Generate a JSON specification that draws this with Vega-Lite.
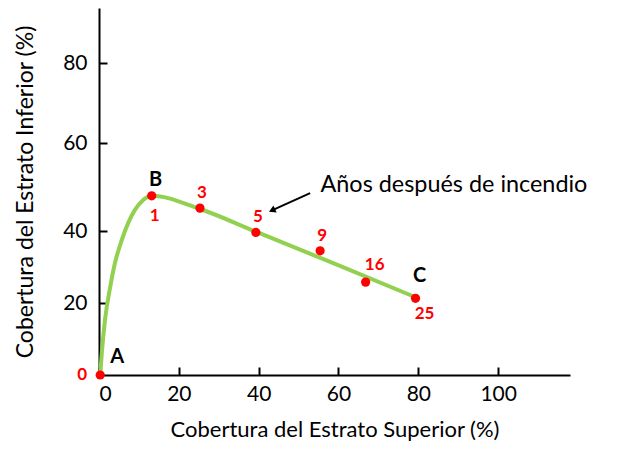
{
  "$schema": "https://vega.github.io/schema/vega-lite/v6.json",
  "width": 471,
  "height": 367,
  "autosize": {"type": "none"},
  "padding": {"left": 99, "top": 8, "right": 50, "bottom": 98},
  "background": "white",
  "config": {
    "view": {"stroke": null},
    "font": "Lato",
    "axis": {
      "grid": false,
      "domainColor": "black",
      "domainWidth": 2,
      "tickColor": "black",
      "tickWidth": 2,
      "tickSize": -8,
      "labelFont": "Lato",
      "labelFontSize": 21,
      "labelColor": "black",
      "titleFont": "Lato",
      "titleFontWeight": "normal",
      "titleColor": "black"
    }
  },
  "datasets": {
    "curve": [
      {"x": 0.3, "y": 0},
      {"x": 0.7, "y": 6.1},
      {"x": 1.5, "y": 15.3},
      {"x": 2.8, "y": 24.4},
      {"x": 4.0, "y": 31.1},
      {"x": 5.7, "y": 37.5},
      {"x": 7.3, "y": 41.8},
      {"x": 9.0, "y": 44.8},
      {"x": 11.0, "y": 47.0},
      {"x": 13.2, "y": 48.0},
      {"x": 25.3, "y": 45.0},
      {"x": 39.3, "y": 39.8},
      {"x": 59.3, "y": 30.8},
      {"x": 79.3, "y": 21.6}
    ],
    "pts": [
      {"x": 0.3, "y": 0, "year": "0", "letter": "A"},
      {"x": 13.2, "y": 48.0, "year": "1", "letter": "B"},
      {"x": 25.3, "y": 45.2, "year": "3", "letter": ""},
      {"x": 39.3, "y": 39.6, "year": "5", "letter": ""},
      {"x": 55.4, "y": 34.5, "year": "9", "letter": ""},
      {"x": 66.8, "y": 25.8, "year": "16", "letter": ""},
      {"x": 79.3, "y": 21.3, "year": "25", "letter": "C"}
    ],
    "note": [
      {"x": 55.5, "y": 50.5, "text": "Años después de incendio"}
    ],
    "arrow": [
      {"x": 52.9, "y": 48.6, "x2": 43.6, "y2": 44.8}
    ]
  },
  "encoding": {
    "x": {
      "field": "x",
      "type": "quantitative",
      "scale": {"domain": [0, 118], "nice": false, "zero": false},
      "axis": {"values": [0, 20, 40, 60, 80, 100], "title": "Cobertura del Estrato Superior (%)", "titleFontSize": 22, "labelPadding": 16, "titlePadding": 15}
    },
    "y": {
      "field": "y",
      "type": "quantitative",
      "scale": {"domain": [0, 20, 40, 60, 80, 93.75], "range": [367, 295, 223, 135, 55, 0], "nice": false, "zero": false},
      "axis": {"values": [20, 40, 60, 80], "title": "Cobertura del Estrato Inferior (%)", "titleFontSize": 23, "labelPadding": 20, "titlePadding": 25}
    }
  },
  "layer": [
    {
      "data": {"name": "curve"},
      "mark": {"type": "line", "color": "#92D050", "strokeWidth": 4, "interpolate": "monotone"}
    },
    {
      "data": {"name": "arrow"},
      "mark": {"type": "rule", "color": "black", "strokeWidth": 2},
      "encoding": {"x2": {"field": "x2"}, "y2": {"field": "y2"}}
    },
    {
      "data": {"name": "arrow"},
      "mark": {"type": "point", "shape": "triangle", "filled": true, "color": "black", "size": 60, "angle": 245, "opacity": 1},
      "encoding": {"x": {"field": "x2", "type": "quantitative"}, "y": {"field": "y2", "type": "quantitative"}}
    },
    {
      "data": {"name": "note"},
      "mark": {"type": "text", "align": "left", "baseline": "middle", "fontSize": 23.4, "font": "Lato", "color": "black"},
      "encoding": {"text": {"field": "text"}}
    },
    {
      "data": {"name": "pts"},
      "mark": {"type": "circle", "color": "#FF0000", "size": 85, "opacity": 1}
    },
    {
      "data": {"name": "pts"},
      "transform": [{"filter": "indexof(['3','5','9'], datum.year) >= 0"}],
      "mark": {"type": "text", "color": "#FF0000", "fontWeight": "bold", "fontSize": 17, "dx": 2, "dy": -15, "baseline": "middle"},
      "encoding": {"text": {"field": "year"}}
    },
    {
      "data": {"name": "pts"},
      "transform": [{"filter": "datum.year == '16'"}],
      "mark": {"type": "text", "color": "#FF0000", "fontWeight": "bold", "fontSize": 17, "dx": 9, "dy": -17, "baseline": "middle"},
      "encoding": {"text": {"field": "year"}}
    },
    {
      "data": {"name": "pts"},
      "transform": [{"filter": "datum.year == '1'"}],
      "mark": {"type": "text", "color": "#FF0000", "fontWeight": "bold", "fontSize": 17, "dx": 3, "dy": 20, "baseline": "middle"},
      "encoding": {"text": {"field": "year"}}
    },
    {
      "data": {"name": "pts"},
      "transform": [{"filter": "datum.year == '25'"}],
      "mark": {"type": "text", "color": "#FF0000", "fontWeight": "bold", "fontSize": 17, "dx": 9, "dy": 16, "baseline": "middle"},
      "encoding": {"text": {"field": "year"}}
    },
    {
      "data": {"name": "pts"},
      "transform": [{"filter": "datum.year == '0'"}],
      "mark": {"type": "text", "color": "#FF0000", "fontWeight": "bold", "fontSize": 17, "dx": -18, "dy": 0, "baseline": "middle"},
      "encoding": {"text": {"field": "year"}}
    },
    {
      "data": {"name": "pts"},
      "transform": [{"filter": "datum.letter == 'B'"}],
      "mark": {"type": "text", "color": "black", "fontWeight": "bold", "fontSize": 20, "dx": 4, "dy": -16, "baseline": "middle"},
      "encoding": {"text": {"field": "letter"}}
    },
    {
      "data": {"name": "pts"},
      "transform": [{"filter": "datum.letter == 'C'"}],
      "mark": {"type": "text", "color": "black", "fontWeight": "bold", "fontSize": 20, "dx": 4, "dy": -22, "baseline": "middle"},
      "encoding": {"text": {"field": "letter"}}
    },
    {
      "data": {"name": "pts"},
      "transform": [{"filter": "datum.letter == 'A'"}],
      "mark": {"type": "text", "color": "black", "fontWeight": "bold", "fontSize": 20, "dx": 17, "dy": -18, "baseline": "middle"},
      "encoding": {"text": {"field": "letter"}}
    }
  ]
}
